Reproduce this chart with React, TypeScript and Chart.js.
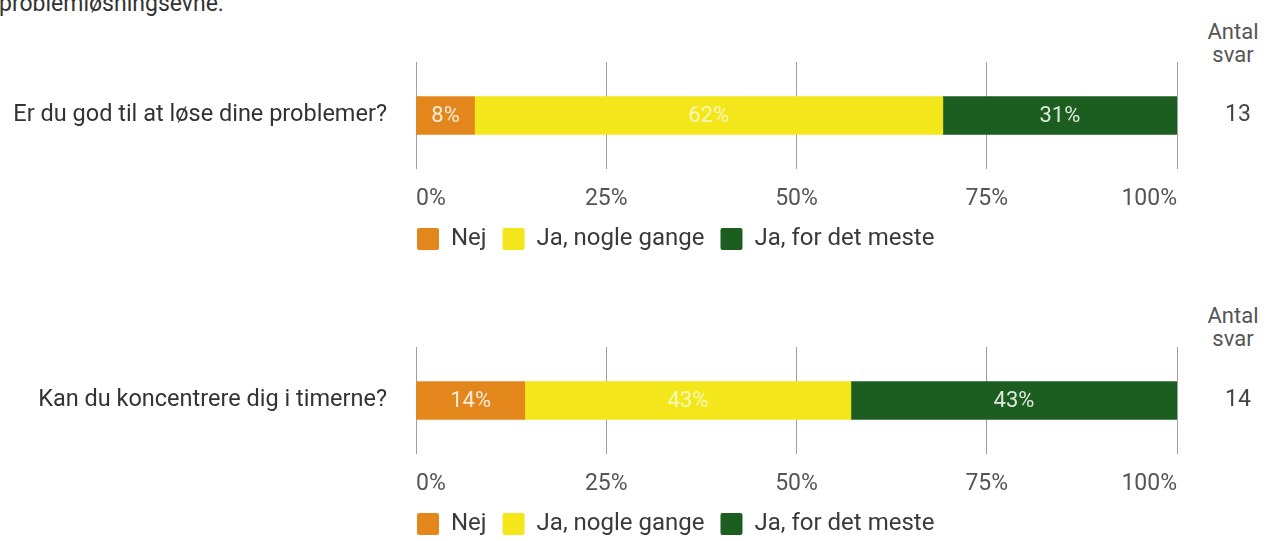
import React, { useEffect, useRef } from 'react';
import { Chart, registerables } from 'chart.js';

Chart.register(...registerables);
Chart.defaults.font.family = 'Roboto, "Noto Sans", sans-serif';

const seriesNames = ['Nej', 'Ja, nogle gange', 'Ja, for det meste'];
const seriesColors = ['#E3871C', '#F3E61A', '#1B5E20'];
const tickValues = [0, 25, 50, 75, 100];
const sectionTitle = 'problemløsningsevne.';
const countHeader = ['Antal', 'svar'];

const q1Labels = ['Er du god til at løse dine problemer?'];
const q1Nej = [7.69];
const q1Nogle = [61.54];
const q1Meste = [30.77];
const q1Counts = ['13'];

const q2Labels = ['Kan du koncentrere dig i timerne?'];
const q2Nej = [14.29];
const q2Nogle = [42.86];
const q2Meste = [42.86];
const q2Counts = ['14'];

const barLabelPlugin = {
  id: 'barLabels',
  afterDatasetsDraw(chart: any) {
    const { ctx } = chart;
    ctx.save();
    ctx.font = '22px Roboto';
    ctx.textAlign = 'center';
    ctx.textBaseline = 'middle';
    chart.data.datasets.forEach((ds: any, i: number) => {
      const meta = chart.getDatasetMeta(i);
      meta.data.forEach((el: any, j: number) => {
        const v = ds.data[j];
        const p = el.getProps(['x', 'y', 'base'], true);
        ctx.fillStyle = i === 1 ? 'rgba(255,255,255,0.7)' : 'rgba(255,255,255,0.85)';
        ctx.fillText(Math.round(v) + '%', (p.x + p.base) / 2, p.y + 1);
      });
    });
    ctx.restore();
  },
};

const legendShiftPlugin = {
  id: 'legendShift',
  afterLayout(chart: any) {
    const lg = chart.legend;
    if (!lg) return;
    const pad = lg.options.labels.padding;
    const dx = chart.chartArea.left + 1 - (lg.left + pad);
    lg.left += dx;
    lg.right += dx;
  },
};

function StackedBar(props: {
  labels: string[];
  counts: string[];
  series: number[][];
  top: number;
}) {
  const ref = useRef<HTMLCanvasElement | null>(null);
  useEffect(() => {
    if (!ref.current) return;
    const chart = new Chart(ref.current, {
      type: 'bar',
      data: {
        labels: props.labels,
        datasets: seriesNames.map((name, i) => ({
          label: name,
          data: props.series[i],
          backgroundColor: seriesColors[i],
          borderWidth: 0,
          barThickness: 38,
        })),
      },
      options: {
        indexAxis: 'y',
        responsive: false,
        maintainAspectRatio: false,
        animation: false,
        layout: { padding: { top: 62, bottom: 2, left: 0, right: 0 } },
        scales: {
          x: {
            type: 'linear',
            stacked: true,
            min: 0,
            max: 100,
            afterBuildTicks: (s: any) => {
              s.ticks = tickValues.map((v) => ({ value: v }));
            },
            afterFit: (s: any) => {
              s.height = 42;
            },
            ticks: {
              callback: (v: any) => v + '%',
              font: { size: 23 },
              color: '#555555',
              padding: 16,
              maxRotation: 0,
              align: 'inner',
            },
            grid: { color: '#A0A0A0', lineWidth: 1, drawTicks: false },
            border: { display: false },
          },
          y: {
            stacked: true,
            position: 'left',
            afterFit: (s: any) => {
              s.width = 416;
            },
            ticks: { font: { size: 23.5 }, color: '#333333', padding: 21 },
            grid: { display: false },
            border: { display: false },
          },
          y2: {
            type: 'category',
            position: 'right',
            labels: props.counts,
            offset: true,
            afterFit: (s: any) => {
              s.width = 95;
            },
            ticks: { font: { size: 23 }, color: '#444444', padding: 40 },
            grid: { display: false },
            border: { display: false },
          },
        },
        plugins: {
          legend: {
            display: true,
            position: 'bottom',
            align: 'start',
            labels: {
              boxWidth: 22,
              boxHeight: 22,
              padding: 16,
              useBorderRadius: true,
              borderRadius: 2,
              color: '#3A3A3A',
              font: { size: 24 },
            },
          },
          tooltip: { enabled: false },
        },
      } as any,
      plugins: [barLabelPlugin, legendShiftPlugin],
    });
    return () => chart.destroy();
  }, []);
  return (
    <canvas
      ref={ref}
      width={1272}
      height={263}
      style={{ position: 'absolute', left: 0, top: props.top, width: 1272, height: 263 }}
    />
  );
}

function CountHeader(props: { top: number }) {
  return (
    <div
      style={{
        position: 'absolute',
        left: 1183,
        width: 100,
        top: props.top,
        textAlign: 'center',
        fontFamily: 'Roboto',
        fontSize: 22,
        lineHeight: '23px',
        color: '#555555',
      }}
    >
      {countHeader[0]}
      <br />
      {countHeader[1]}
    </div>
  );
}

export default function App() {
  return (
    <div
      style={{
        position: 'fixed',
        left: 0,
        top: 0,
        width: 1272,
        height: 541,
        overflow: 'hidden',
        background: '#ffffff',
      }}
    >
      <div
        style={{
          position: 'absolute',
          left: -1,
          top: -8,
          fontFamily: 'Roboto',
          fontSize: 23,
          lineHeight: '23px',
          color: '#333333',
          whiteSpace: 'nowrap',
        }}
      >
        {sectionTitle}
      </div>
      <CountHeader top={20} />
      <CountHeader top={304} />
      <StackedBar labels={q1Labels} counts={q1Counts} series={[q1Nej, q1Nogle, q1Meste]} top={0} />
      <StackedBar labels={q2Labels} counts={q2Counts} series={[q2Nej, q2Nogle, q2Meste]} top={285} />
    </div>
  );
}
